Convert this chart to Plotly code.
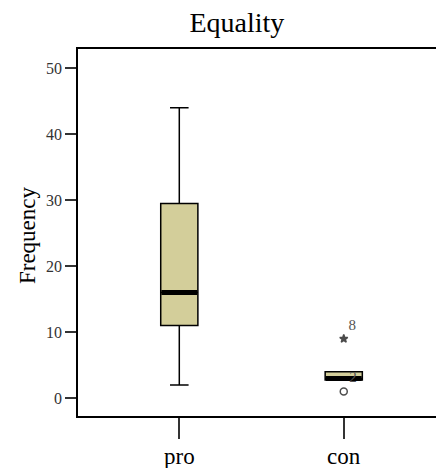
import plotly.graph_objects as go

categories = ["pro", "con"]
q1 = [11, 2.75]
median = [16, 3]
q3 = [29.5, 4]
lower_whisker = [2, 2.75]
upper_whisker = [44, 4]
outlier_cat = [1, 1]
outlier_val = [1, 9]
outlier_label = ["2", "8"]
outlier_symbol = ["circle-open", "star"]
y_ticks = [0, 10, 20, 30, 40, 50]

FONT = "Liberation Serif"
box_w = 0.226
xpos = list(range(len(categories)))

fig = go.Figure()
for i, c in enumerate(categories):
    fig.add_trace(go.Box(
        x=[xpos[i]], q1=[q1[i]], median=[median[i]], q3=[q3[i]],
        lowerfence=[lower_whisker[i]], upperfence=[upper_whisker[i]],
        width=box_w, whiskerwidth=0.5, fillcolor="#d3ce9a",
        line=dict(color="black", width=1.5), boxpoints=False,
        showlegend=False, hoverinfo="skip"))
    fig.add_trace(go.Scatter(
        x=[xpos[i] - box_w / 2 + 0.004, xpos[i] + box_w / 2 - 0.004],
        y=[median[i], median[i]], mode="lines",
        line=dict(color="black", width=5), showlegend=False, hoverinfo="skip"))

fig.add_trace(go.Scatter(
    x=outlier_cat, y=outlier_val, mode="markers+text",
    marker=dict(symbol=outlier_symbol, size=[7, 6], color="black",
                line=dict(color="black", width=1.5)),
    text=outlier_label, textposition="top right",
    textfont=dict(family=FONT, size=15, color="#555555"),
    showlegend=False, hoverinfo="skip"))

cat_annotations = [dict(text=c, x=xpos[i], xref="x", y=(416 - 456) / 367, yref="paper",
                        showarrow=False, xanchor="center", yanchor="middle",
                        font=dict(family=FONT, size=23, color="black"))
                   for i, c in enumerate(categories)]

fig.update_layout(
    width=436, height=468,
    margin=dict(l=78, r=0, t=49, b=52),
    paper_bgcolor="white", plot_bgcolor="white",
    font=dict(family=FONT, color="#333333"),
    title=dict(text="Equality", x=0.444, xref="paper", xanchor="center",
               y=0.953, yref="container", yanchor="middle",
               font=dict(family=FONT, size=28, color="black")),
    xaxis=dict(range=[-0.616, 1.561], tickvals=xpos, ticktext=categories,
               showticklabels=False,
               ticks="outside", ticklen=21, tickcolor="#333333", tickwidth=1.5,
               showline=True, linecolor="black", linewidth=1.5, mirror=True,
               showgrid=False, zeroline=False, automargin=False),
    yaxis=dict(range=[-2.7, 52.9], tickvals=y_ticks,
               ticks="outside", ticklen=11, tickcolor="#333333", tickwidth=1.5,
               showline=True, linecolor="black", linewidth=1.5,
               showgrid=False, zeroline=False, automargin=False,
               tickfont=dict(family=FONT, size=16, color="#333333")),
    annotations=[dict(text="Frequency", xref="paper", yref="paper",
                      x=(27 - 78) / 358, y=0.493, textangle=-90,
                      showarrow=False, xanchor="center", yanchor="middle",
                      font=dict(family=FONT, size=23, color="black"))] + cat_annotations,
)

fig.write_html("out.html", config={"displayModeBar": False})
with open("out.html", encoding="utf-8") as f:
    html = f.read()
html = html.replace("<head>", "<head><style>html,body{margin:0;padding:0;overflow:hidden;}</style>", 1)
with open("out.html", "w", encoding="utf-8") as f:
    f.write(html)
